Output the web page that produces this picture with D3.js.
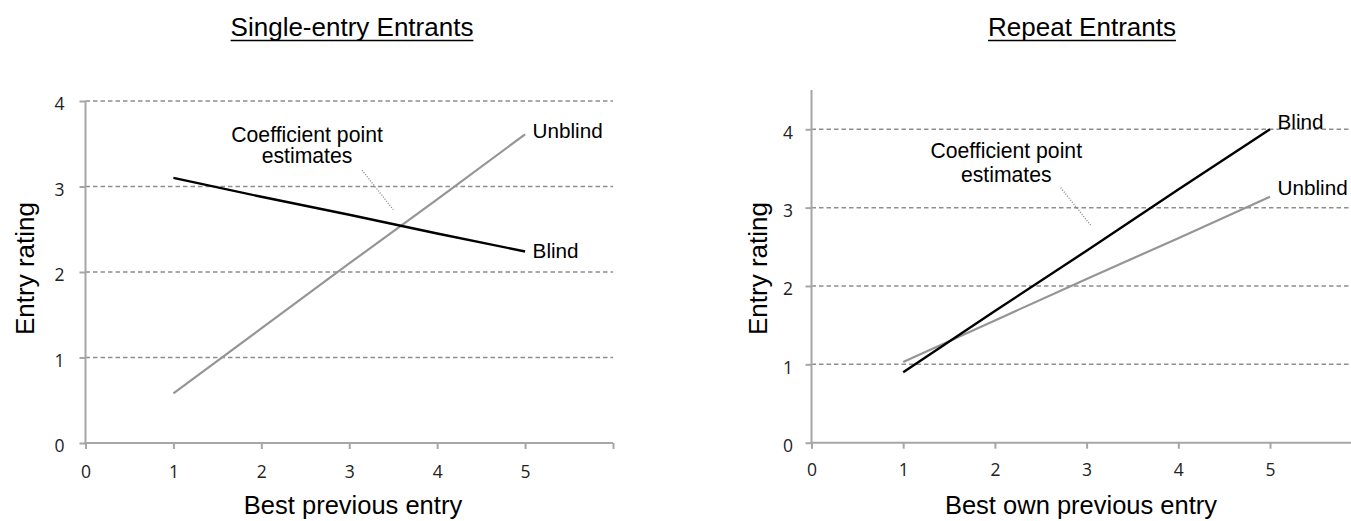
<!DOCTYPE html>
<html>
<head>
<meta charset="utf-8">
<script src="https://cdn.jsdelivr.net/npm/d3@7"></script>
<style>
  html, body { margin: 0; padding: 0; background: #fff; }
  svg { display: block; }
</style>
</head>
<body>
<svg id="chart" width="1351" height="521"></svg>
<script>
// ---------- DATA ----------
const xValues = [1, 2, 3, 4, 5];
const singleBlind   = [3.10, 2.88, 2.67, 2.45, 2.24];
const singleUnblind = [0.58, 1.34, 2.10, 2.85, 3.61];
const repeatBlind   = [0.90, 1.68, 2.45, 3.23, 4.00];
const repeatUnblind = [1.03, 1.56, 2.09, 2.61, 3.14];
const xTicks = [0, 1, 2, 3, 4, 5, 6];
const xTickLabels = ["0", "1", "2", "3", "4", "5", ""];
const yTicks = [0, 1, 2, 3, 4];
const yTickLabels = ["0", "1", "2", "3", "4"];
const titles = ["Single-entry Entrants", "Repeat Entrants"];
const xTitles = ["Best previous entry", "Best own previous entry"];
const yTitle = "Entry rating";
const annotationLines = ["Coefficient point", "estimates"];
const seriesNames = ["Blind", "Unblind"];

// ---------- LAYOUT ----------
const panels = [
  {
    title: titles[0], xTitle: xTitles[0],
    blind: singleBlind, unblind: singleUnblind,
    xRange: [85.5, 613], xDomain: [0, 6], axisEndX: 6,
    yRange: [443, 101], yDomain: [0, 4], axisTopY: 4,
    titleX: 352, xTitleX: 353, yTitleX: 33.5,
    yLabelGap: 21,
    annot: { x: 2.52, y1: 141.7, y2: 163.3, lx1: 3.146, ly1: 3.19, lx2: 3.50, ly2: 2.73 },
    labelDy: { Blind: 7, Unblind: 4 },
    xLabelBaseline: 478
  },
  {
    title: titles[1], xTitle: xTitles[1],
    blind: repeatBlind, unblind: repeatUnblind,
    xRange: [811.5, 1361.7], xDomain: [0, 6], axisEndX: 6,
    yRange: [442.7, 90.1], yDomain: [0, 4.5], axisTopY: 4.5,
    titleX: 1082, xTitleX: 1081, yTitleX: 767,
    yLabelGap: 18.5,
    annot: { x: 2.124, y1: 158.3, y2: 181.7, lx1: 2.718, ly1: 3.255, lx2: 3.048, ly2: 2.77 },
    labelDy: { Blind: 0, Unblind: -1.5 },
    xLabelBaseline: 476.5
  }
];

const svg = d3.select("#chart");
const sansFont = "'Liberation Sans', Arial, Helvetica, sans-serif";
const tickFont = "'Open Sans', 'Liberation Sans', sans-serif";
const axisColor = "#a6a6a6";
const gridColor = "#8f8f8f";

panels.forEach(p => {
  const x = d3.scaleLinear().domain(p.xDomain).range(p.xRange);
  const y = d3.scaleLinear().domain(p.yDomain).range(p.yRange);
  const g = svg.append("g");

  // gridlines (dashed) at y ticks > 0
  g.selectAll("line.grid")
    .data(yTicks.filter(d => d > 0))
    .enter().append("line")
    .attr("x1", x(0)).attr("x2", x(p.axisEndX))
    .attr("y1", d => y(d)).attr("y2", d => y(d))
    .attr("stroke", gridColor).attr("stroke-width", 1.5)
    .attr("stroke-dasharray", "4.5,3");

  // y axis
  const yAxis = d3.axisLeft(y).tickValues(yTicks)
    .tickFormat((d, i) => yTickLabels[i]).tickSize(6).tickSizeOuter(0).tickPadding(p.yLabelGap - 6);
  const ya = g.append("g").attr("transform", `translate(${x(0)},0)`).call(yAxis);
  ya.attr("font-size", 17.5).attr("font-family", tickFont);
  ya.select(".domain").remove();
  ya.selectAll(".tick line").attr("stroke", axisColor).attr("stroke-width", 2);
  ya.selectAll(".tick text").style("font-family", tickFont).style("font-size", "17.5px")
    .attr("fill", "#222").attr("dy", "0.5em");
  g.append("line")
    .attr("x1", x(0)).attr("x2", x(0))
    .attr("y1", y(0)).attr("y2", y(p.axisTopY))
    .attr("stroke", axisColor).attr("stroke-width", 2);

  // x axis
  const xAxis = d3.axisBottom(x).tickValues(xTicks)
    .tickFormat((d, i) => xTickLabels[i]).tickSize(6).tickSizeOuter(0).tickPadding(0);
  const xa = g.append("g").attr("transform", `translate(0,${y(0)})`).call(xAxis);
  xa.attr("font-size", 17.5).attr("font-family", tickFont);
  xa.select(".domain").remove();
  xa.selectAll(".tick line").attr("stroke", axisColor).attr("stroke-width", 2);
  xa.selectAll(".tick text").style("font-family", tickFont).style("font-size", "17.5px")
    .attr("fill", "#222").attr("dy", null)
    .attr("y", p.xLabelBaseline - y(0));
  g.append("line")
    .attr("x1", x(0) - 1).attr("x2", x(p.axisEndX))
    .attr("y1", y(0)).attr("y2", y(0))
    .attr("stroke", axisColor).attr("stroke-width", 2);

  // series lines
  const line = d3.line().x((d, i) => x(xValues[i])).y(d => y(d));
  g.append("path").datum(p.unblind).attr("d", line)
    .attr("fill", "none").attr("stroke", "#959595").attr("stroke-width", 2.2);
  g.append("path").datum(p.blind).attr("d", line)
    .attr("fill", "none").attr("stroke", "#000").attr("stroke-width", 2.4);

  // series labels
  const lastI = xValues.length - 1;
  [["Blind", p.blind], ["Unblind", p.unblind]].forEach(([name, vals]) => {
    g.append("text")
      .attr("x", x(xValues[lastI]) + 7.5)
      .attr("y", y(vals[lastI]) + p.labelDy[name])
      .attr("font-family", sansFont).attr("font-size", 20.7).attr("fill", "#000")
      .text(name);
  });

  // annotation
  g.append("text").attr("x", x(p.annot.x)).attr("y", p.annot.y1)
    .attr("text-anchor", "middle").attr("font-family", sansFont)
    .attr("font-size", 21.2).attr("fill", "#000").text(annotationLines[0]);
  g.append("text").attr("x", x(p.annot.x)).attr("y", p.annot.y2)
    .attr("text-anchor", "middle").attr("font-family", sansFont)
    .attr("font-size", 21.2).attr("fill", "#000").text(annotationLines[1]);
  g.append("line")
    .attr("x1", x(p.annot.lx1)).attr("y1", y(p.annot.ly1))
    .attr("x2", x(p.annot.lx2)).attr("y2", y(p.annot.ly2))
    .attr("stroke", "#8a8a8a").attr("stroke-width", 1.4)
    .attr("stroke-dasharray", "1,1.6");

  // title with underline
  const t = g.append("text").attr("x", p.titleX).attr("y", 36)
    .attr("text-anchor", "middle").attr("font-family", sansFont)
    .attr("font-size", 26).attr("fill", "#000").text(p.title);
  const w = t.node().getComputedTextLength();
  g.append("line")
    .attr("x1", p.titleX - w / 2).attr("x2", p.titleX + w / 2)
    .attr("y1", 40.5).attr("y2", 40.5)
    .attr("stroke", "#000").attr("stroke-width", 1.6);

  // axis titles
  g.append("text").attr("x", p.xTitleX).attr("y", 514)
    .attr("text-anchor", "middle").attr("font-family", sansFont)
    .attr("font-size", 25.5).attr("fill", "#000").text(p.xTitle);
  g.append("text")
    .attr("transform", `translate(${p.yTitleX},268.5) rotate(-90)`)
    .attr("text-anchor", "middle").attr("font-family", sansFont)
    .attr("font-size", 26).attr("fill", "#000").text(yTitle);
});
</script>
</body>
</html>
